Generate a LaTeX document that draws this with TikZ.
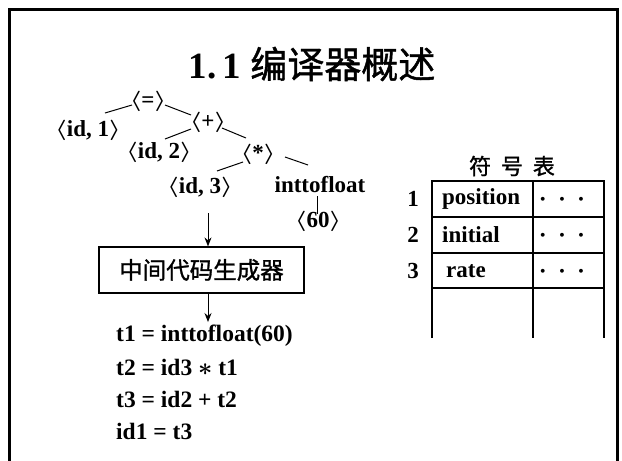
\documentclass[tikz,border=0pt]{standalone}
\usepackage{fontspec}
\usepackage{graphicx}
\setmainfont{Liberation Serif}
\newfontfamily\cjk{Noto Sans CJK SC}
\newfontfamily\cjkmed[FakeBold=1.2]{Noto Sans CJK SC}
\newcommand\lab{\raisebox{0.05em}{\scalebox{1.05}[0.82]{$\langle$}}}
\newcommand\rab{\raisebox{0.05em}{\scalebox{1.05}[0.82]{$\rangle$}}}
\usetikzlibrary{arrows.meta,calc}
\tikzset{
  tree/.style={font=\bfseries\boldmath\fontsize{23}{23}\selectfont, inner sep=0pt},
  code/.style={font=\bfseries\boldmath\fontsize{23.5}{23.5}\selectfont, inner sep=0pt, anchor=west},
  tbl/.style={font=\bfseries\boldmath\fontsize{23}{23}\selectfont, inner sep=0pt},
  edge/.style={line width=1pt},
  arr/.style={line width=1pt,-{Stealth[length=9pt,width=7pt]}},
  box/.style={draw, line width=1.2pt, minimum width=205pt, minimum height=46pt, inner sep=0pt, font=\cjkmed\fontsize{23.5}{23.5}\selectfont}
}
\begin{document}
\begin{tikzpicture}[x=1pt,y=-1pt]
\useasboundingbox (0,0) rectangle (622,461);
\draw[line width=3pt] (9.5,461) -- (9.5,9.5) -- (617.5,9.5) -- (617.5,461);
\node[inner sep=0pt] (title) at (312,64) {\fontsize{37}{37}\selectfont\bfseries 1.\,1 {\cjkmed\mdseries 编译器概述}};
% tree
\node[tree] (eq) at (148,101) {\lab=\rab};
\node[tree] (id1) at (88,130) {\lab id, 1\rab};
\node[tree] (plus) at (208,122) {\lab+\rab};
\node[tree] (id2) at (159,152) {\lab id, 2\rab};
\node[tree] (star) at (258,154) {\lab*\rab};
\node[tree] (id3) at (200,187) {\lab id, 3\rab};
\node[tree] (itf) at (320,185) {inttofloat};
\node[tree] (n60) at (318,221) {\lab 60\rab};
\draw[edge] ($(id1)+(17,-17)$) -- ($(eq)+(-16,4)$);
\draw[edge] ($(eq)+(17,4)$) -- ($(plus)+(-17,-7)$);
\draw[edge] ($(id2)+(6,-13)$) -- ($(plus)+(-17,7)$);
\draw[edge] ($(plus)+(14,6)$) -- ($(star)+(-12,-16)$);
\draw[edge] ($(id3)+(17,-16)$) -- ($(star)+(-15,8)$);
\draw[edge] ($(star)+(27,3)$) -- ($(itf)+(-12,-20)$);
\draw[edge] ($(itf)+(-3,11)$) -- ($(n60)+(-1,-7)$);
% generator
\node[box] (gen) at (201.5,270) {中间代码生成器};
\coordinate (a1) at (208,213);
\draw[arr] (a1) -- (a1 |- gen.north);
\node[code] (c1) at (116,336) {t1 = inttofloat(60)};
\node[code] (c2) at (116,367) {t2 = id3 $\ast$ t1};
\node[code] (c3) at (116,399) {t3 = id2 + t2};
\node[code] (c4) at (116,431) {id1 = t3};
\draw[arr] (a1 |- gen.south) -- ($(a1 |- c1.north)+(0,-3)$);
% symbol table
\node[inner sep=0pt, font=\cjkmed\fontsize{22}{22}\selectfont] (sthead) at (512,166) {符\hspace{0.45em}号\hspace{0.45em}表};
\draw[line width=1.2pt] (432,338) -- (432,181) -- (604,181) -- (604,338);
\draw[line width=1.2pt] (533,181) -- (533,338);
\foreach \y in {217,253,288} \draw[line width=1.2pt] (432,\y) -- (604,\y);
\node[tbl] (r1) at (413,199) {1};
\node[tbl] (r2) at (413,235) {2};
\node[tbl] (r3) at (413,271) {3};
\node[tbl, anchor=west] (p1) at (442,199) {position};
\node[tbl, anchor=west] (p2) at (442,235) {initial};
\node[tbl, anchor=west] (p3) at (446,271) {rate};
\node[tbl] (d1) at (562,200) {$\cdot\,\cdot\,\cdot$};
\node[tbl] (d2) at (562,236) {$\cdot\,\cdot\,\cdot$};
\node[tbl] (d3) at (562,272) {$\cdot\,\cdot\,\cdot$};
\end{tikzpicture}
\end{document}
